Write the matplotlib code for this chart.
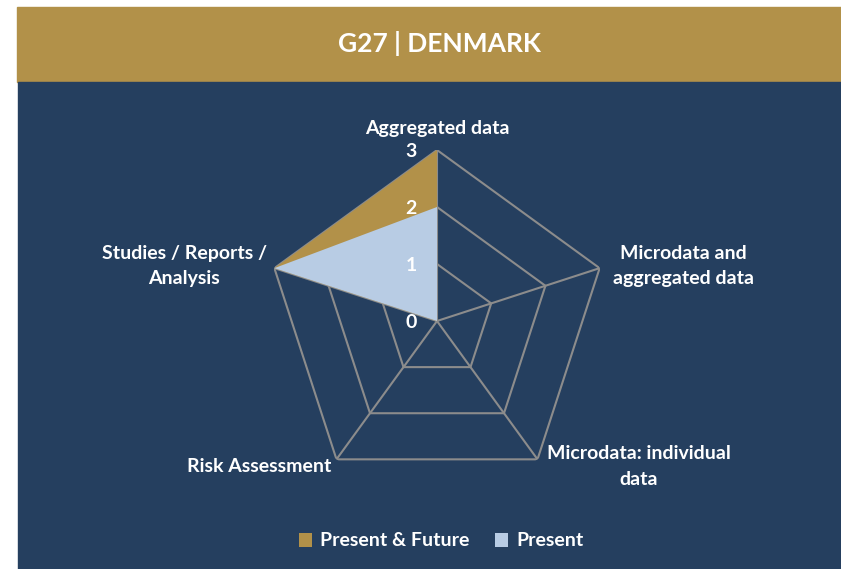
import numpy as np
import matplotlib
matplotlib.use("Agg")
import matplotlib.pyplot as plt
from matplotlib.patches import Rectangle, Patch

categories = ["Aggregated data", "Microdata and\naggregated data",
              "Microdata: individual\ndata", "Risk Assessment",
              "Studies / Reports /\nAnalysis"]
present_future = [3, 0, 0, 0, 3]
present = [2, 0, 0, 0, 3]
levels = [0, 1, 2, 3]
title = "G27 | DENMARK"

GOLD = "#B29149"
NAVY = "#253F5F"
LIGHT = "#B8CCE4"
GRID = "#8C8C8C"
FONT = "Lato"

W, H = 841, 569
fig = plt.figure(figsize=(W / 100, H / 100), dpi=100, facecolor="white")
fig.patches.append(Rectangle((17 / W, 1 - 82 / H), 1 - 17 / W, 75 / H,
                             transform=fig.transFigure, color=GOLD, zorder=-2))
fig.patches.append(Rectangle((18 / W, 0), 1 - 18 / W, 1 - 82 / H,
                             transform=fig.transFigure, color=NAVY, zorder=-2))

fig.text(439 / W, 1 - 43 / H, title, ha="center", va="center", color="white",
         fontsize=19, fontweight="bold", family=FONT)

cx, cy, R = 437, 321, 171
ax = fig.add_axes([(cx - R) / W, (H - cy - R) / H, 2 * R / W, 2 * R / H],
                  projection="polar")
ax.set_zorder(1)
ax.set_facecolor("none")
ax.set_theta_offset(np.pi / 2)
ax.set_theta_direction(-1)
ax.set_ylim(0, max(levels))
ax.grid(False)
ax.spines["polar"].set_visible(False)
ax.set_xticks([])
ax.set_yticks([])

n = len(categories)
theta = np.linspace(0, 2 * np.pi, n, endpoint=False)
tc = np.append(theta, theta[0])

for lv in levels[1:]:
    ax.plot(tc, [lv] * (n + 1), color=GRID, lw=1.5, zorder=1)
for t in theta:
    ax.plot([t, t], [0, max(levels)], color=GRID, lw=1.5, zorder=1)

ax.fill(tc, present_future + present_future[:1], color=GOLD, zorder=2, lw=0)
ax.fill(tc, present + present[:1], color=LIGHT, zorder=3, lw=0)

for lv in levels:
    ax.annotate(str(lv), xy=(0, lv), xytext=(-26, -1), textcoords="offset pixels",
                ha="center", va="center", color="white", fontsize=14,
                fontweight="bold", family=FONT, annotation_clip=False, zorder=5)

offsets = [(0, 22), (84, 2), (101, -7), (-77, -7), (-90, 2)]
for t, lab, off in zip(theta, categories, offsets):
    ax.annotate(lab, xy=(t, max(levels)), xytext=off, textcoords="offset pixels",
                ha="center", va="center", multialignment="center", color="white",
                fontsize=14, fontweight="bold", family=FONT,
                annotation_clip=False, linespacing=1.6)

handles = [Patch(facecolor=GOLD, label="Present & Future"),
           Patch(facecolor=LIGHT, label="Present")]
leg = fig.legend(handles=handles, loc="center", bbox_to_anchor=(441 / W, 1 - 541 / H),
                 ncol=2, frameon=False, handlelength=0.7, handleheight=0.7,
                 handletextpad=0.4, columnspacing=1.3,
                 prop={"family": FONT, "weight": "bold", "size": 14})
for t in leg.get_texts():
    t.set_color("white")

fig.savefig("out.png", dpi=100, facecolor="white")
